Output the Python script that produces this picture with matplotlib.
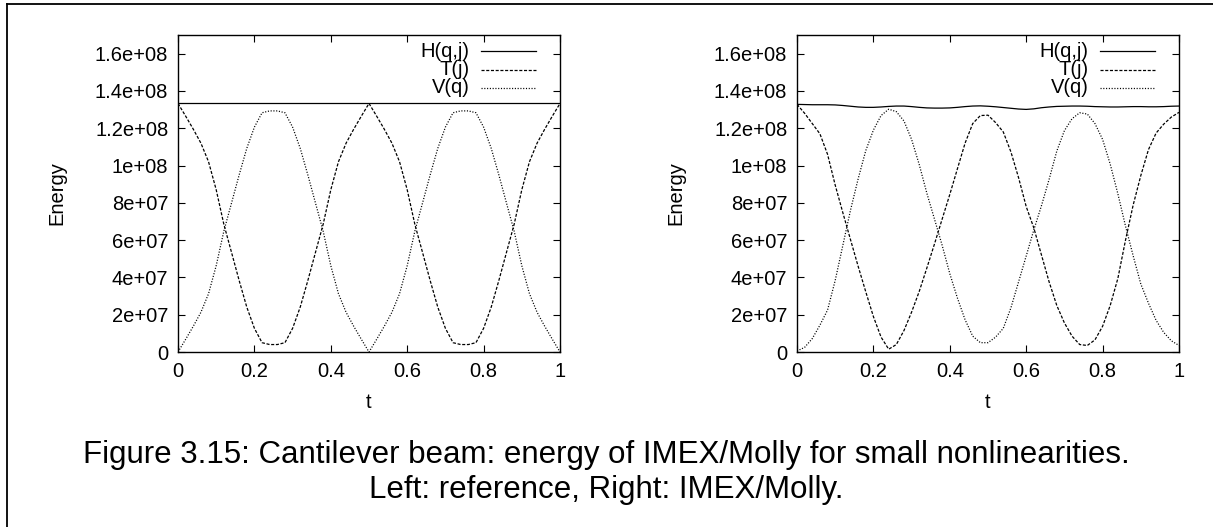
import numpy as np
import matplotlib
matplotlib.use("Agg")
import matplotlib.pyplot as plt
from matplotlib.lines import Line2D

plt.rcParams['font.family'] = ['Liberation Sans', 'DejaVu Sans']
plt.rcParams['lines.scale_dashes'] = False

# sample times (51 points on [0, 1])
t_steps = np.linspace(0.0, 1.0, 51)

# energies in units of 1e7
ref_H = [13.33, 13.33]
ref_T = [13.33, 12.65, 11.95, 11.2, 10.2, 8.7, 6.85, 5.35, 3.84, 2.41, 1.27, 0.5, 0.4,
         0.4, 0.5, 1.27, 2.41, 3.84, 5.35, 6.85, 8.7, 10.2, 11.2, 11.95, 12.65, 13.33,
         12.65, 11.95, 11.2, 10.2, 8.7, 6.85, 5.35, 3.84, 2.41, 1.27, 0.5, 0.4,
         0.4, 0.5, 1.27, 2.41, 3.84, 5.35, 6.85, 8.7, 10.2, 11.2, 11.95, 12.65, 13.33]
ref_V = [0.0, 0.68, 1.38, 2.13, 3.13, 4.63, 6.48, 7.98, 9.49, 10.92, 12.06, 12.83, 12.93,
         12.93, 12.83, 12.06, 10.92, 9.49, 7.98, 6.48, 4.63, 3.13, 2.13, 1.38, 0.68, 0.0,
         0.68, 1.38, 2.13, 3.13, 4.63, 6.48, 7.98, 9.49, 10.92, 12.06, 12.83, 12.93,
         12.93, 12.83, 12.06, 10.92, 9.49, 7.98, 6.48, 4.63, 3.13, 2.13, 1.38, 0.68, 0.0]

imex_H = [13.28, 13.27, 13.26, 13.26, 13.26, 13.25, 13.22, 13.18, 13.14, 13.12, 13.12,
          13.14, 13.17, 13.19, 13.19, 13.16, 13.12, 13.09, 13.08, 13.08, 13.09, 13.12,
          13.16, 13.19, 13.2, 13.18, 13.15, 13.11, 13.07, 13.03, 13.01, 13.04, 13.1,
          13.14, 13.17, 13.18, 13.19, 13.19, 13.18, 13.16, 13.15, 13.14, 13.14, 13.15,
          13.16, 13.16, 13.15, 13.15, 13.16, 13.18, 13.19]
imex_T = [13.28, 12.8, 12.25, 11.7, 10.6, 8.95, 7.47, 6.03, 4.6, 3.23, 1.9, 0.8, 0.15,
          0.4, 1.15, 2.14, 3.25, 4.51, 5.8, 7.13, 8.45, 9.83, 11.2, 12.25, 12.68, 12.7,
          12.3, 11.8, 10.73, 9.35, 7.8, 6.65, 5.2, 3.76, 2.5, 1.56, 0.85, 0.4,
          0.35, 0.65, 1.38, 2.5, 3.95, 6.0, 7.88, 9.46, 10.85, 11.74, 12.22, 12.6, 12.85]
imex_V = [0.05, 0.25, 0.72, 1.44, 2.25, 3.84, 5.72, 7.6, 9.28, 10.8, 11.9, 12.68, 13.02,
          12.89, 12.39, 11.4, 10.05, 8.51, 7.12, 5.72, 4.2, 2.89, 1.73, 0.85, 0.5, 0.5,
          0.8, 1.27, 2.37, 3.76, 5.15, 6.55, 7.85, 9.26, 10.77, 11.87, 12.51, 12.83,
          12.76, 12.25, 11.4, 10.07, 8.48, 6.75, 5.16, 3.65, 2.62, 1.7, 1.05, 0.6, 0.35]

series_labels = ['H(q,j)', 'T(j)', 'V(q)']
y_ticks = [0, 2e7, 4e7, 6e7, 8e7, 1e8, 1.2e8, 1.4e8, 1.6e8]
y_ticklabels = ['0', '2e+07', '4e+07', '6e+07', '8e+07', '1e+08', '1.2e+08', '1.4e+08', '1.6e+08']
x_ticks = [0, 0.2, 0.4, 0.6, 0.8, 1]
x_ticklabels = ['0', '0.2', '0.4', '0.6', '0.8', '1']

styles = [dict(ls='-'), dict(ls=(0, (2.2, 1.2))), dict(ls=(0, (0.8, 1.2)))]
FS = 14.5

fig = plt.figure(figsize=(12.13, 5.27), dpi=100)


def energy_panel(rect, H_t, H, T, V):
    ax = fig.add_axes(rect)
    ax.plot(H_t, np.array(H) * 1e7, color='black', lw=0.9, **styles[0])
    ax.plot(t_steps, np.array(T) * 1e7, color='black', lw=0.9, **styles[1])
    ax.plot(t_steps, np.array(V) * 1e7, color='black', lw=0.9, **styles[2])
    ax.set_xlim(0, 1)
    ax.set_ylim(0, 1.7e8)
    ax.set_xticks(x_ticks)
    ax.set_xticklabels(x_ticklabels)
    ax.set_yticks(y_ticks)
    ax.set_yticklabels(y_ticklabels)
    ax.tick_params(direction='in', length=5, width=0.8, top=True, right=True,
                   labelsize=FS, pad=7)
    for s in ax.spines.values():
        s.set_linewidth(1.0)
    ax.set_xlabel('t', fontsize=FS, va='center')
    ax.xaxis.set_label_coords(0.5, -0.158)
    ax.set_ylabel('Energy', fontsize=FS, va='center')
    ax.yaxis.set_label_coords(-0.316, 0.5)

    # gnuplot-style key: right-aligned text followed by line sample
    rows = [0.9495, 0.891, 0.833]
    for lab, st, yy in zip(series_labels, styles, rows):
        ax.text(0.764, yy, lab, transform=ax.transAxes, ha='right', va='center',
                fontsize=FS)
        ax.add_line(Line2D([0.793, 0.937], [yy, yy], transform=ax.transAxes,
                           color='black', lw=0.9, **st))
    return ax


energy_panel([178 / 1213, 175 / 527, 382 / 1213, 317 / 527],
             [0.0, 1.0], ref_H, ref_T, ref_V)
energy_panel([797 / 1213, 175 / 527, 382 / 1213, 317 / 527],
             t_steps, imex_H, imex_T, imex_V)

# page frame
fig.add_artist(Line2D([7 / 1213, 7 / 1213], [0, 1 - 4 / 527], color='black', lw=1.3))
fig.add_artist(Line2D([7 / 1213, 1], [1 - 4 / 527, 1 - 4 / 527], color='black', lw=1.3))

fig.text(0.5, 1 - 455 / 527,
         'Figure 3.15: Cantilever beam: energy of IMEX/Molly for small nonlinearities.',
         ha='center', va='center', fontsize=22.5)
fig.text(0.5, 1 - 490 / 527, 'Left: reference, Right: IMEX/Molly.',
         ha='center', va='center', fontsize=22.5)

fig.savefig('out.png', dpi=100)
